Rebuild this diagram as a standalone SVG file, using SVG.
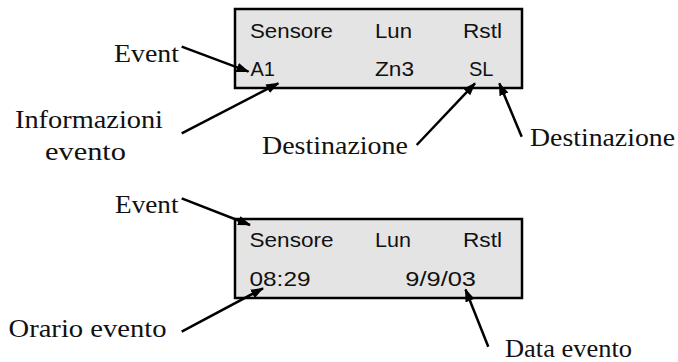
<svg xmlns="http://www.w3.org/2000/svg" width="678" height="362" viewBox="0 0 678 362">
<style>
.box{fill:#e4e4e4;stroke:#000;stroke-width:2.5}
.ss{font-family:"Liberation Sans",Arial,sans-serif;font-size:20.5px;fill:#111}
.sf{font-family:"Liberation Serif","Times New Roman",serif;font-size:26px;fill:#111}
.ln{stroke:#000;stroke-width:2.5;fill:none;marker-end:url(#ah)}
</style>
<defs>
<marker id="ah" markerUnits="userSpaceOnUse" markerWidth="14" markerHeight="12" viewBox="0 0 14 12" refX="12" refY="6" orient="auto">
<path d="M0,1.2 L13,6 L0,10.8 Z" fill="#000"/>
</marker>
</defs>
<rect width="678" height="362" fill="#fff"/>
<g id="display1">
<rect class="box" x="235" y="9" width="287" height="79"/>
<text class="ss" x="250" y="37.5" textLength="83" lengthAdjust="spacingAndGlyphs">Sensore</text>
<text class="ss" x="375" y="37.5" textLength="37" lengthAdjust="spacingAndGlyphs">Lun</text>
<text class="ss" x="463" y="37.5" textLength="39" lengthAdjust="spacingAndGlyphs">Rstl</text>
<text class="ss" x="250.5" y="76" textLength="24.5" lengthAdjust="spacingAndGlyphs">A1</text>
<text class="ss" x="375" y="76" textLength="39" lengthAdjust="spacingAndGlyphs">Zn3</text>
<text class="ss" x="469" y="76" textLength="24.5" lengthAdjust="spacingAndGlyphs">SL</text>
</g>
<g id="display2">
<rect class="box" x="235" y="219" width="287" height="79"/>
<text class="ss" x="249.5" y="246.5" textLength="84" lengthAdjust="spacingAndGlyphs">Sensore</text>
<text class="ss" x="375" y="246.5" textLength="36" lengthAdjust="spacingAndGlyphs">Lun</text>
<text class="ss" x="463" y="246.5" textLength="39" lengthAdjust="spacingAndGlyphs">Rstl</text>
<text class="ss" x="249.5" y="285.7" textLength="61" lengthAdjust="spacingAndGlyphs">08:29</text>
<text class="ss" x="405.3" y="285.7" textLength="70.7" lengthAdjust="spacingAndGlyphs">9/9/03</text>
</g>
<g id="labels">
<text id="lbl-event1" class="sf" x="114" y="61.7" textLength="65" lengthAdjust="spacingAndGlyphs">Event</text>
<text id="lbl-info1" class="sf" x="15" y="128.3" textLength="148" lengthAdjust="spacingAndGlyphs">Informazioni</text>
<text id="lbl-info2" class="sf" x="45" y="160" textLength="81" lengthAdjust="spacingAndGlyphs">evento</text>
<text id="lbl-dest1" class="sf" x="262" y="154" textLength="146" lengthAdjust="spacingAndGlyphs">Destinazione</text>
<text id="lbl-dest2" class="sf" x="530" y="146" textLength="145" lengthAdjust="spacingAndGlyphs">Destinazione</text>
<text id="lbl-event2" class="sf" x="115" y="213.3" textLength="63.5" lengthAdjust="spacingAndGlyphs">Event</text>
<text id="lbl-orario" class="sf" x="8.5" y="336.7" textLength="158" lengthAdjust="spacingAndGlyphs">Orario evento</text>
<text id="lbl-data" class="sf" x="505" y="357" textLength="127" lengthAdjust="spacingAndGlyphs">Data evento</text>
</g>
<g id="connectors">
<line class="ln" x1="181.7" y1="46.7" x2="248.5" y2="71.7"/>
<line class="ln" x1="181.7" y1="133.3" x2="278.3" y2="83.3"/>
<line class="ln" x1="416.7" y1="145" x2="475" y2="83.3"/>
<line class="ln" x1="521.7" y1="136.7" x2="499.3" y2="83.3"/>
<line class="ln" x1="181.7" y1="198.3" x2="250" y2="225"/>
<line class="ln" x1="181.7" y1="331.7" x2="263" y2="288.3"/>
<line class="ln" x1="488.3" y1="346.7" x2="465.5" y2="289.5"/>
</g>
</svg>
